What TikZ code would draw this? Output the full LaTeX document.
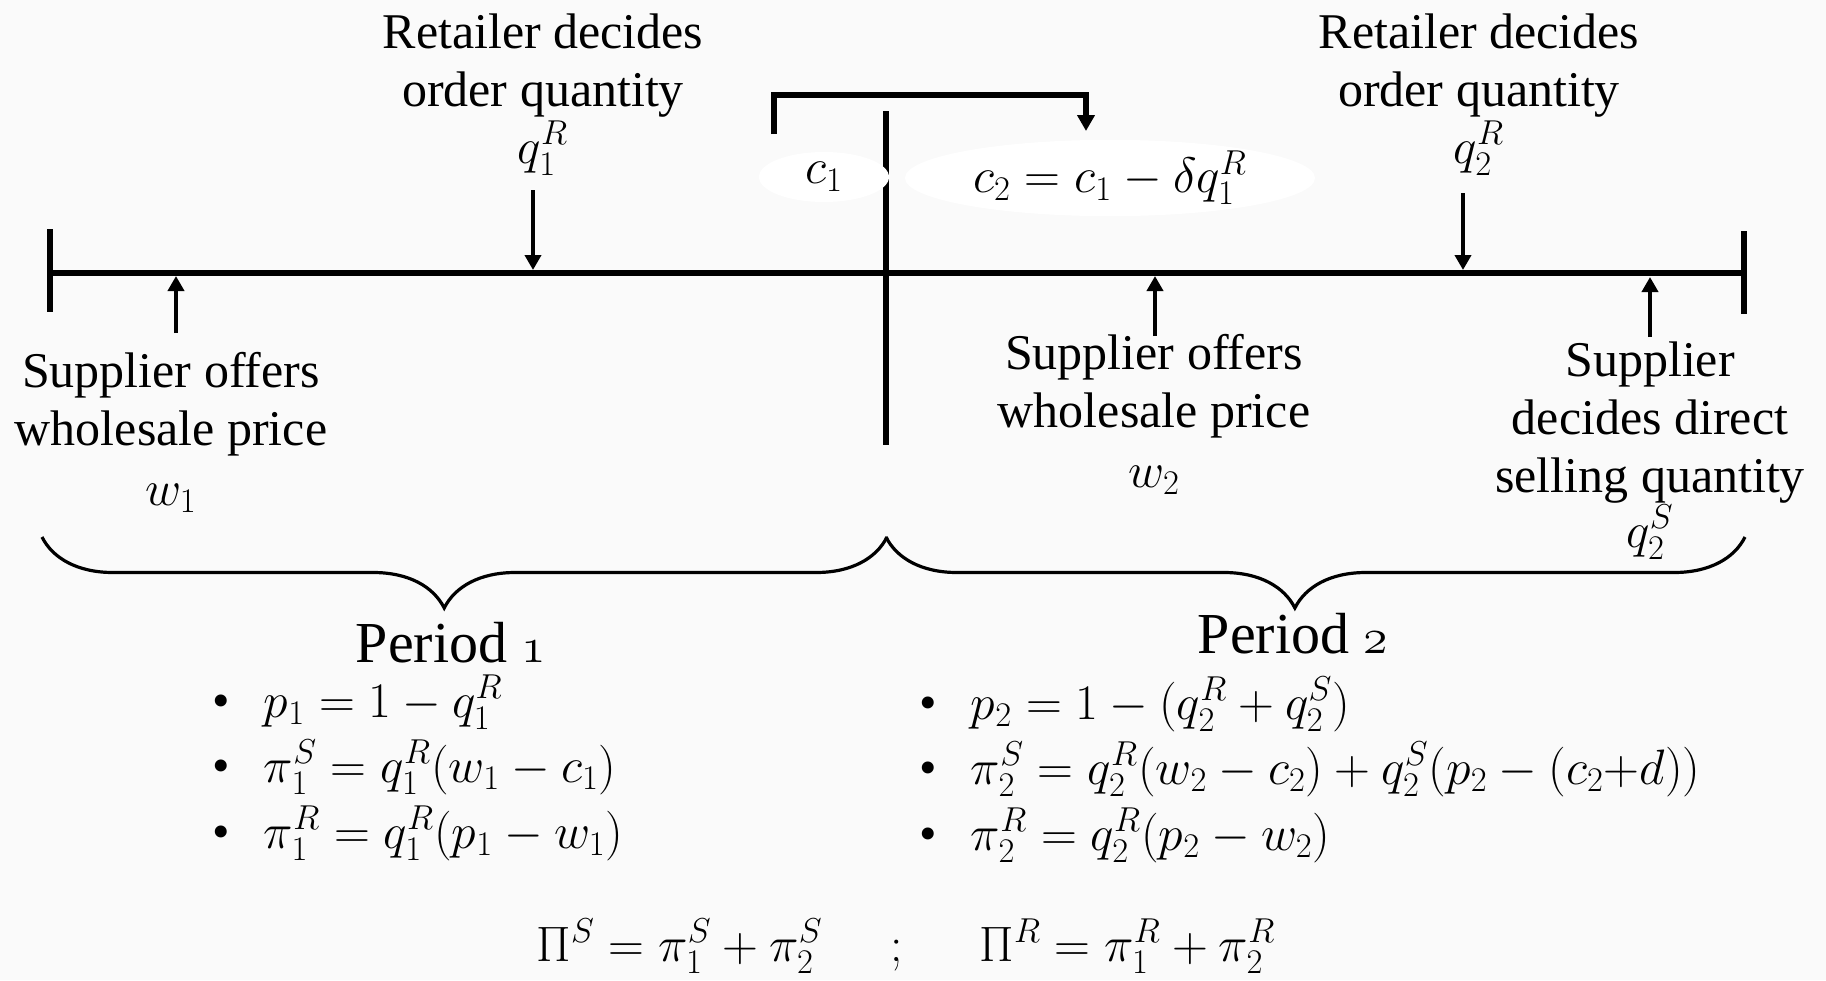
\documentclass[tikz,border=0pt]{standalone}
\usepackage{amsmath,amssymb}
\usepackage{fontspec}
\setmainfont{Liberation Serif}
\usepackage{tikz}
\usetikzlibrary{arrows.meta, shapes.geometric, decorations.pathreplacing}

\newcommand{\pbullet}{\textbullet\hspace{17pt}}

\begin{document}
\begin{tikzpicture}[
  x=0.5pt, y=-0.5pt,
  every node/.style={font=\fontsize{25}{29}\selectfont, inner sep=0pt},
  eventtext/.style={align=center, anchor=base},
  bubble/.style={ellipse, fill=white},
  bulletline/.style={anchor=base west},
  periodtext/.style={anchor=base, font=\fontsize{29}{34}\selectfont},
  arrow/.style={-{Triangle[length=7.5pt, width=8pt]}, line width=2.4pt},
  axisline/.style={line width=2.6pt},
  periodbrace/.style={decorate, decoration={brace, mirror, amplitude=35.5pt, aspect=0.476}, line width=1.6pt},
]

% Background
\fill[black!2] (0,0) rectangle (1826,980);
\useasboundingbox (0,0) rectangle (1826,980);

% Time line
\coordinate (start) at (50,273);
\coordinate (end) at (1744,273);
\draw[axisline] (start) -- (end);
\draw[axisline] (50,229) -- (50,312);
\draw[axisline] (1744,231) -- (1744,314);
\draw[axisline, line width=2.8pt] (886,111) -- (886,445);

% Events (anchored at the last line)
\node[eventtext] (ret1) at (543,163) {Retailer decides\\order quantity\\[-0.5pt]$q_1^R$};
\node[eventtext] (sup1) at (171,505) {Supplier offers\\wholesale price\\[1pt]$w_1$};
\node[eventtext] (sup2) at (1154,487) {Supplier offers\\wholesale price\\[1pt]$w_2$};
\node[eventtext] (ret2) at (1479,163) {Retailer decides\\order quantity\\[-0.5pt]$q_2^R$};
\node[eventtext] (dir2) at (1650,547) {Supplier\\decides direct\\selling quantity\\[-1.5pt]$q_2^S$};

% Arrows to the time line
\coordinate (ord1t) at (533,190);
\coordinate (ord1) at (533,270);
\coordinate (off1t) at (176,333);
\coordinate (off1) at (176,276);
\coordinate (off2t) at (1155,336);
\coordinate (off2) at (1155,276);
\coordinate (ord2t) at (1463,193);
\coordinate (ord2) at (1463,270);
\coordinate (dir2t) at (1650,337);
\coordinate (dir2h) at (1650,277);
\draw[arrow] (ord1t) -- (ord1);
\draw[arrow] (off1t) -- (off1);
\draw[arrow] (off2t) -- (off2);
\draw[arrow] (ord2t) -- (ord2);
\draw[arrow] (dir2t) -- (dir2h);

% Cost carried over
\coordinate (cfrom) at (774,134);
\coordinate (cto) at (1086,131);
\draw[arrow, line width=2.6pt, -{Triangle[length=8pt, width=8.5pt]}] (cfrom) -- ++(0,-39) -| (cto);
\node[bubble, minimum width=65pt, minimum height=25pt] (cone) at (824,177) {$c_1$};
\node[bubble, minimum width=205pt, minimum height=36pt] (ctwo) at (1110,178) {$c_2 = c_1 - \delta q_1^R$};

% Periods
\coordinate (b1l) at (42,537);
\coordinate (b1r) at (887,537);
\coordinate (b2l) at (886,537);
\coordinate (b2r) at (1745,537);
\draw[periodbrace] (b1l) -- (b1r);
\draw[periodbrace] (b2l) -- (b2r);
\node[periodtext] (per1) at (451,662) {Period $\mathnormal{1}$};
\node[periodtext] (per2) at (1293,653) {Period $\mathnormal{2}$};

\node[bulletline] (pa1) at (212,717) {\pbullet$p_1 = 1 - q_1^R$};
\node[bulletline] (pa2) at (212,782) {\pbullet$\pi_1^S = q_1^R(w_1 - c_1)$};
\node[bulletline] (pa3) at (212,848) {\pbullet$\pi_1^R = q_1^R(p_1 - w_1)$};

\node[bulletline] (pb1) at (919,719) {\pbullet$p_2 = 1 - (q_2^R + q_2^S)$};
\node[bulletline] (pb2) at (919,784) {\pbullet$\pi_2^S = q_2^R(w_2 - c_2) + q_2^S(p_2 - (c_2{+}d))$};
\node[bulletline] (pb3) at (919,850) {\pbullet$\pi_2^R = q_2^R(p_2 - w_2)$};

% Totals
\node[anchor=base] (tot) at (906,961) {$\Pi^S = \pi_1^S + \pi_2^S \hspace{34pt};\hspace{34pt} \Pi^R = \pi_1^R + \pi_2^R$};

\end{tikzpicture}
\end{document}
